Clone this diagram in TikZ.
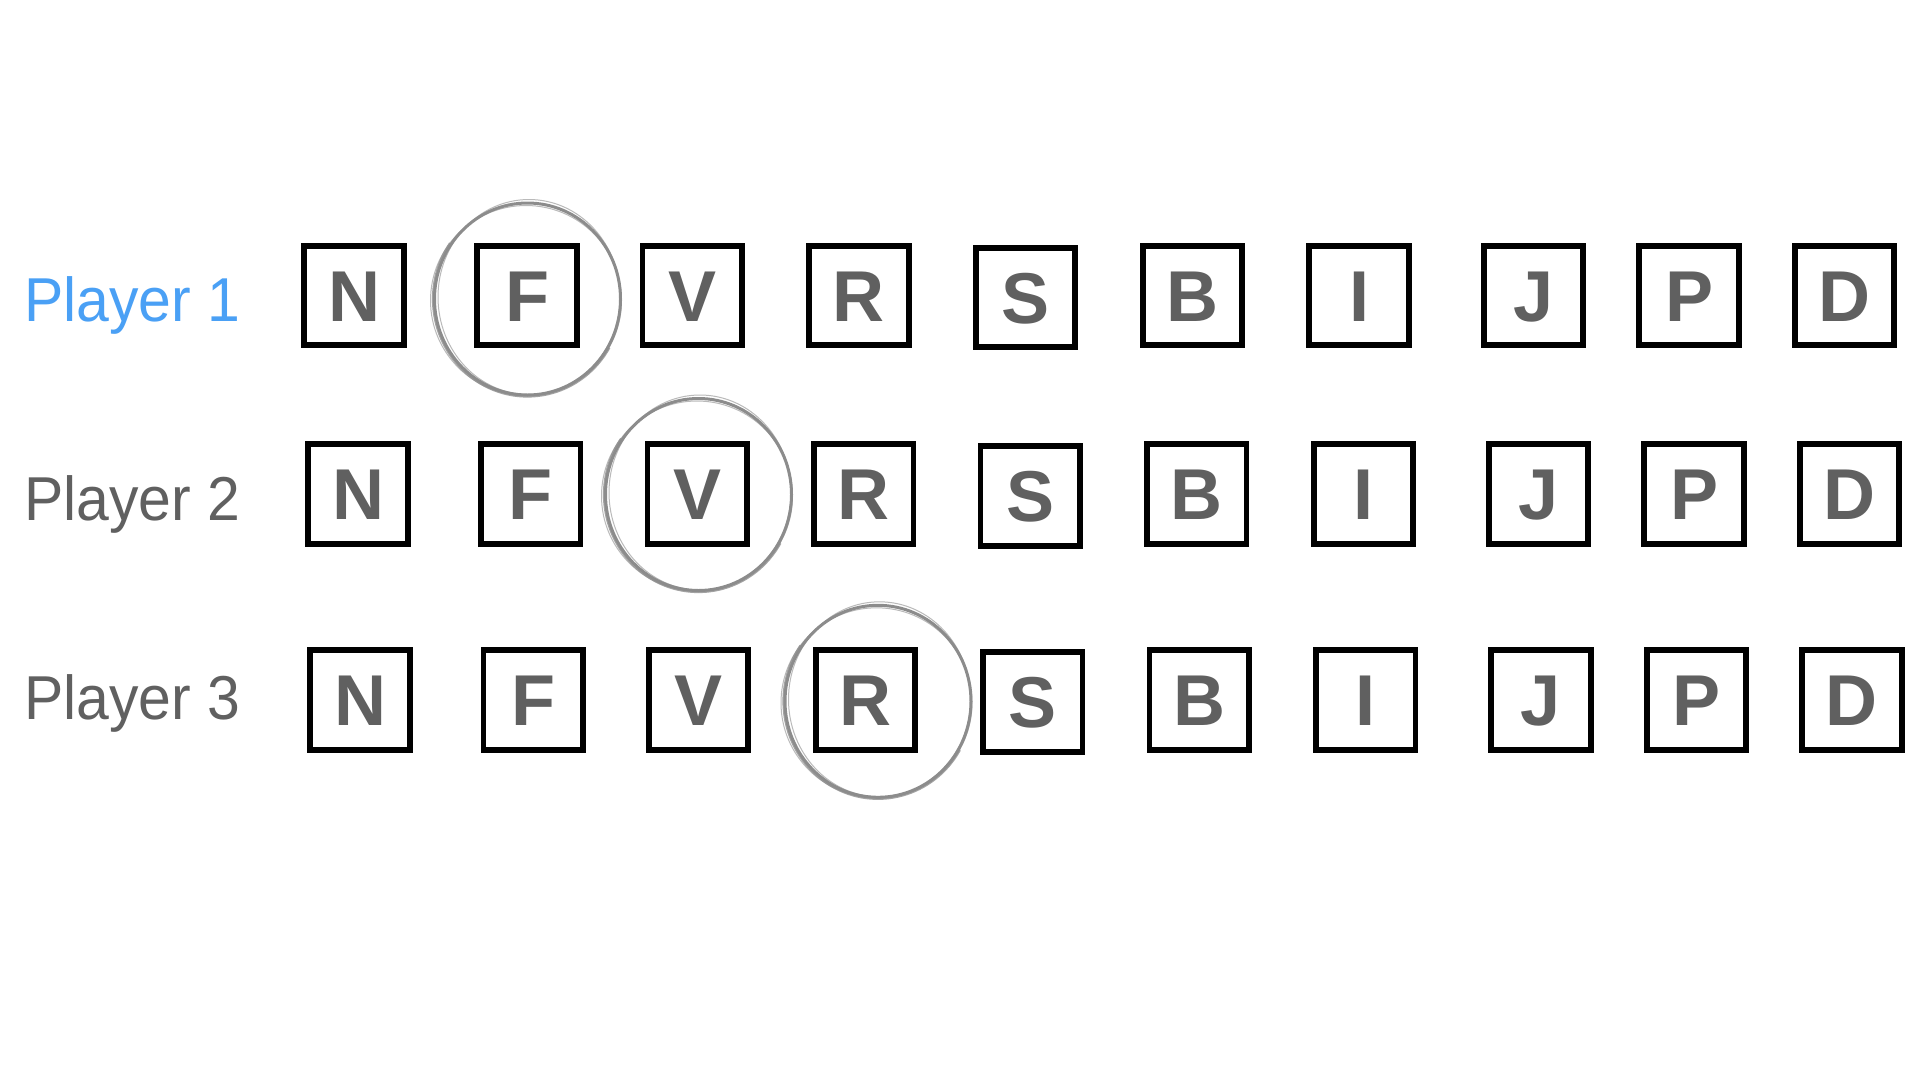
\documentclass[tikz,border=0pt]{standalone}
\usepackage{fontspec}
\setmainfont{Liberation Sans}
\newfontfamily\plfont[FakeStretch=0.95]{Liberation Sans}
\definecolor{pblue}{RGB}{74,160,245}
\definecolor{lgray}{RGB}{96,96,96}
\definecolor{ringgray}{RGB}{140,140,140}
\begin{document}
\begin{tikzpicture}[x=1pt,y=-1pt,
  card/.style={draw=black, line width=5.8pt, minimum width=99.5pt, minimum height=99.5pt,
    inner sep=0pt, font=\fontsize{72}{72}\selectfont\bfseries, text=lgray,
    text height=51.5pt, text depth=0pt},
  plabel/.style={anchor=base west, inner sep=0pt, font=\plfont\fontsize{62}{62}\selectfont},
  ring/.style={draw=ringgray, line width=3pt},
  ringthick/.style={draw=ringgray, line width=2.2pt, opacity=0.8},
  ringthin/.style={draw=ringgray, line width=1pt, opacity=0.6}]
\useasboundingbox[fill=white] (0,0) rectangle (1920,1080);

% labels
\node[plabel, text=pblue] (p1) at (24,321.7) {Player 1};
\node[plabel, text=lgray] (p2) at (24,520.7) {Player 2};
\node[plabel, text=lgray] (p3) at (24,719.3) {Player 3};

% row 1
\foreach \l/\x in {N/354,F/527,V/692.3,R/858.9,B/1192.6,I/1359.1,J/1533.6,P/1689.1,D/1844.6}
  \node[card] (r1\l) at (\x,295.5) {\l};
\node[card] (r1S) at (1025.4,297.5) {S};

% row 2
\foreach \l/\x in {N/358,F/530.7,V/697.2,R/863.8,B/1196.8,I/1363.4,J/1538.5,P/1694,D/1849.5}
  \node[card] (r2\l) at (\x,494) {\l};
\node[card] (r2S) at (1030.3,496) {S};

% row 3
\foreach \l/\x in {N/360,F/533.2,V/698.5,R/865.5,B/1199.3,I/1365.8,J/1540.9,P/1696.5,D/1851.9}
  \node[card] (r3\l) at (\x,700) {\l};
\node[card] (r3S) at (1032.8,702) {S};

% brush rings (hand-drawn look)
\foreach \cx/\cy in {527.5/299, 698.5/494.5, 878/701.3}{
  \draw[ring] (\cx,\cy) ellipse [x radius=93, y radius=96];
  \draw[ringthick] (\cx,\cy) ++(30:94.5 and 97.5)
     arc [start angle=30, end angle=215, x radius=94.5, y radius=97.5];
  \draw[ringthin] (\cx+1.5,\cy-2) ellipse [x radius=91, y radius=97.5];
  \draw[ringthin] (\cx-1.5,\cy+1.5) ellipse [x radius=95.5, y radius=95];
}
\end{tikzpicture}
\end{document}
